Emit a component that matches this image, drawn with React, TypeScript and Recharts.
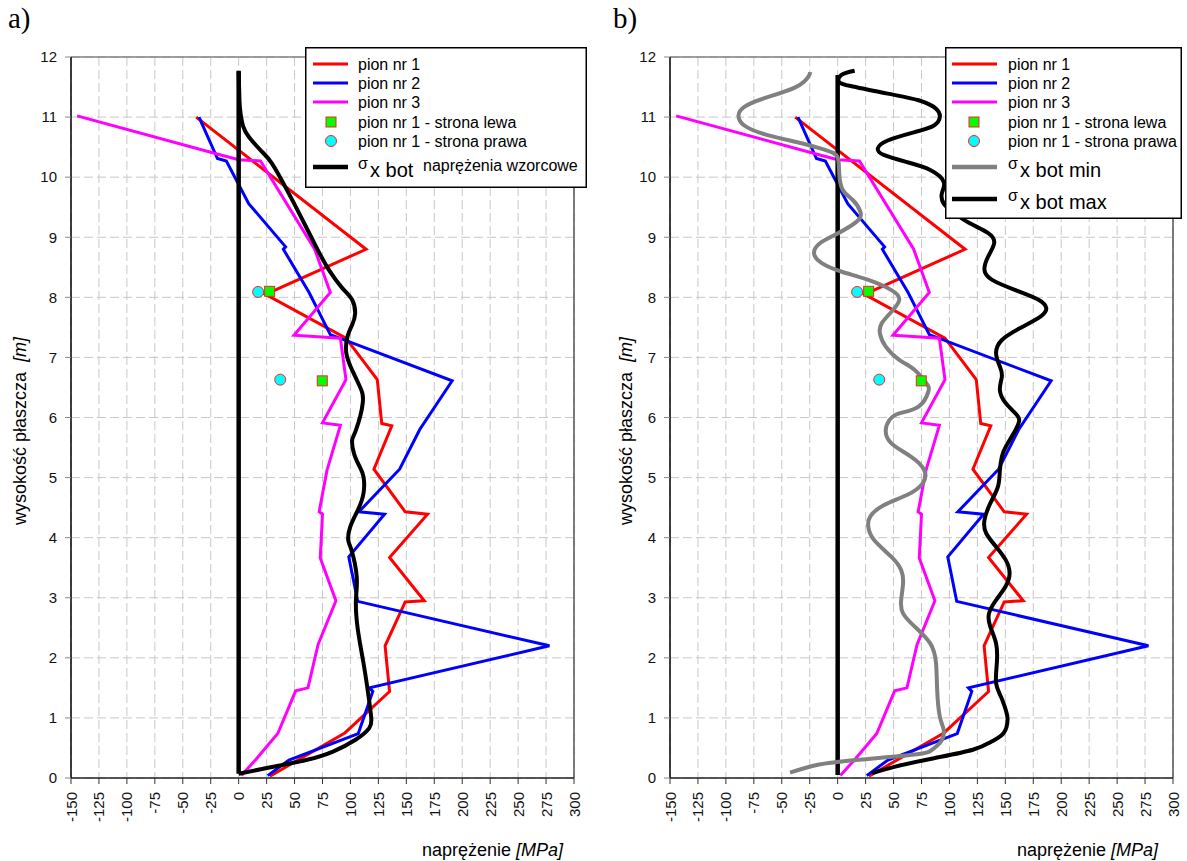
import React from 'react'
import { ScatterChart, Scatter, XAxis, YAxis, CartesianGrid, ReferenceLine } from 'recharts'

type Pt = [number, number]

// osie
const xTicks = [-150, -125, -100, -75, -50, -25, 0, 25, 50, 75, 100, 125, 150, 175, 200, 225, 250, 275, 300]
const yTicks = [0, 1, 2, 3, 4, 5, 6, 7, 8, 9, 10, 11, 12]

// [naprężenie MPa, wysokość m]
const pion1: Pt[] = [
  [-38, 11.0], [114, 8.8], [24, 8.05], [96, 7.32], [124, 6.63], [128, 5.9], [137, 5.86],
  [121, 5.14], [149, 4.43], [169, 4.39], [135, 3.67], [166, 2.95], [149, 2.93], [131, 2.2],
  [135, 1.44], [95, 0.75], [28, 0.03],
]
const pion2: Pt[] = [
  [-35.5, 11.0], [-19, 10.31], [-11, 10.27], [9, 9.56], [42, 8.84], [40, 8.8], [63, 8.08],
  [82, 7.38], [191, 6.61], [162, 5.8], [144, 5.14], [107.5, 4.43], [130.5, 4.39], [98.5, 3.68],
  [106.5, 2.94], [278, 2.2], [117, 1.5], [120, 1.44], [107, 0.74], [45, 0.3], [26, 0.04],
]
const pion3: Pt[] = [
  [-144.5, 11.02], [-16, 10.37], [0, 10.29], [19.5, 10.27], [68, 8.8], [82, 8.08], [49.5, 7.37],
  [91, 7.32], [96, 6.63], [75, 5.91], [91, 5.87], [79, 5.12], [72, 4.43], [75, 4.39], [73, 3.66],
  [87, 2.95], [71, 2.22], [62, 1.5], [51, 1.45], [35, 0.74], [15, 0.3], [2.4, 0.04],
]
const stronaLewa: Pt[] = [[27.7, 8.1], [74.8, 6.61]]
const stronaPrawa: Pt[] = [[17.4, 8.09], [37.2, 6.63]]

// a) naprężenia wzorcowe
const wzorcowe: Pt[] = [
  [0, 11.75], [0.7, 11.28], [1.7, 11.06], [4.1, 10.84], [9.2, 10.67], [19.5, 10.45], [29.7, 10.23],
  [43.4, 9.78], [57.1, 9.29], [70.7, 8.79], [81, 8.45], [92.9, 8.15], [101.5, 7.96], [104.2, 7.73],
  [101.5, 7.54], [97.4, 7.35], [96.3, 7.07], [101.5, 6.79], [108.3, 6.52], [111, 6.24], [104.9, 5.79],
  [101.5, 5.62], [103.2, 5.4], [108.3, 5.18], [111.7, 5.01], [111.7, 4.74], [106.6, 4.46], [99.8, 4.18],
  [98, 3.96], [100.8, 3.8], [105.6, 3.35], [104.9, 2.96], [106.6, 2.47], [111.7, 1.91], [116.2, 1.36],
  [118.6, 1.0], [116.8, 0.83], [104.9, 0.64], [84.4, 0.44], [60.5, 0.3], [26.3, 0.17], [0, 0.07],
]
const zeroA: Pt[] = [[0, 0.07], [0, 11.77]]

// b) obwiednie
const sigmaMin: Pt[] = [
  [-24.6, 11.75], [-26.3, 11.67], [-38.4, 11.49], [-66.2, 11.31], [-83.5, 11.17], [-88.7, 11.03],
  [-83.5, 10.86], [-62.7, 10.7], [-31.5, 10.56], [-10.7, 10.45], [-0.3, 10.34], [1.4, 10.06],
  [4.8, 9.78], [13.5, 9.62], [20.4, 9.42], [17, 9.26], [-0.3, 9.06], [-15.9, 8.9], [-21.1, 8.73],
  [-14.2, 8.57], [3.1, 8.43], [27.4, 8.29], [48.1, 8.12], [55.1, 7.96], [48.1, 7.76], [39.5, 7.57],
  [37.8, 7.4], [43, 7.18], [55.1, 6.96], [68.9, 6.79], [79.3, 6.57], [81.1, 6.43], [72.4, 6.18],
  [55.1, 6.07], [46.4, 5.96], [43, 5.79], [48.1, 5.57], [65.5, 5.35], [77.6, 5.12], [75.9, 4.9],
  [62, 4.71], [41.2, 4.54], [29.1, 4.35], [27.4, 4.18], [32.6, 3.96], [48.1, 3.68], [56.8, 3.46],
  [58.5, 3.24], [56.8, 2.96], [58.5, 2.74], [68.9, 2.52], [82.8, 2.24], [88, 1.91], [89, 1.47],
  [91.4, 1.02], [94.9, 0.8], [92.5, 0.61], [84.5, 0.47], [68.9, 0.39], [17, 0.3], [-17.7, 0.22],
  [-42.6, 0.09],
]
const sigmaMax: Pt[] = [
  [15.2, 11.77], [3.1, 11.7], [1.4, 11.58], [13.5, 11.51], [44.7, 11.39], [72.4, 11.28], [88, 11.14],
  [91.4, 11.0], [86.2, 10.86], [68.9, 10.75], [44.7, 10.61], [36, 10.48], [41.2, 10.37], [62, 10.25],
  [82.8, 10.12], [94.9, 9.92], [93.2, 9.73], [94.9, 9.56], [103, 9.42], [117.4, 9.24], [134.7, 9.07],
  [140, 8.9], [134.7, 8.68], [131.3, 8.46], [138.2, 8.29], [159, 8.12], [179.7, 7.96], [186.6, 7.82],
  [181.4, 7.68], [162.4, 7.48], [146.9, 7.29], [141.7, 7.07], [145.1, 6.85], [146.9, 6.68],
  [145.1, 6.46], [150.3, 6.24], [159, 6.07], [162.4, 5.96], [159, 5.79], [150.3, 5.51], [146.9, 5.35],
  [145.1, 5.12], [143.4, 4.85], [136.5, 4.57], [131.3, 4.29], [133, 4.07], [141.7, 3.85], [150.3, 3.63],
  [153.8, 3.41], [150.3, 3.19], [141.7, 2.96], [135.4, 2.74], [136.5, 2.52], [141.7, 2.24],
  [142.4, 1.91], [141.7, 1.58], [145.9, 1.36], [150.3, 1.14], [152, 0.97], [148.6, 0.75],
  [138.2, 0.61], [120.9, 0.47], [86.2, 0.33], [51.6, 0.19], [30.8, 0.08],
]
const zeroB: Pt[] = [[0, 0.05], [0, 11.7]]

const FONT = '"Liberation Sans", Arial, sans-serif'
const SERIF = '"Liberation Serif", "Times New Roman", serif'

const toData = (pts: Pt[]) => pts.map(([x, y]) => ({ x, y }))

const noDot = () => <g />

const squareDot = (p: any) => (
  <rect x={p.cx - 5} y={p.cy - 5} width={10} height={10} fill="#00ff00" stroke="#ff2020" strokeWidth={1} />
)
const circleDot = (p: any) => (
  <circle cx={p.cx} cy={p.cy} r={5.5} fill="#00ffff" stroke="#ff2020" strokeWidth={1} />
)

function XTick({ x, y, payload }: any) {
  return (
    <text
      x={x}
      y={y}
      transform={`rotate(-90 ${x} ${y})`}
      textAnchor="end"
      dominantBaseline="central"
      fontSize={15}
      fontFamily={FONT}
      fill="#111"
    >
      {payload.value}
    </text>
  )
}

function lineSeries(pts: Pt[], color: string, width: number, smooth = false) {
  return (
    <Scatter
      data={toData(pts)}
      fill={color}
      line={{ stroke: color, strokeWidth: width }}
      lineJointType={smooth ? 'natural' : 'linear'}
      shape={noDot}
      isAnimationActive={false}
    />
  )
}

interface PanelProps {
  left: number
  width: number
  marginLeft: number
  marginRight: number
  children: React.ReactNode
}

function Panel({ left, width, marginLeft, marginRight, children }: PanelProps) {
  return (
    <div style={{ position: 'absolute', left, top: 0 }}>
      <ScatterChart width={width} height={861} margin={{ top: 57, right: marginRight, bottom: 33, left: marginLeft }}>
        <CartesianGrid strokeDasharray="9 4" stroke="#c8c8c8" />
        <XAxis
          type="number"
          dataKey="x"
          domain={[-150, 300]}
          ticks={xTicks}
          interval={0}
          height={50}
          tickSize={6}
          tickMargin={8}
          axisLine={{ stroke: '#222', strokeWidth: 1.5 }}
          tickLine={{ stroke: '#333' }}
          tick={(p: any) => <XTick {...p} />}
        />
        <YAxis
          type="number"
          dataKey="y"
          domain={[0, 12]}
          ticks={yTicks}
          interval={0}
          width={60}
          tickSize={6}
          tickMargin={8}
          axisLine={{ stroke: '#000', strokeWidth: 1.5 }}
          tickLine={{ stroke: '#888' }}
          tick={{ fontSize: 15, fontFamily: FONT, fill: '#111' }}
        />
        <ReferenceLine y={12} stroke="#808080" strokeWidth={1.5} />
        <ReferenceLine x={300} stroke="#555" strokeWidth={1.5} />
        {lineSeries(pion1, '#ff0000', 3)}
        {lineSeries(pion2, '#0000ff', 3)}
        {lineSeries(pion3, '#ff00ff', 3)}
        {children}
        <Scatter data={toData(stronaLewa)} fill="#00ff00" shape={squareDot} isAnimationActive={false} />
        <Scatter data={toData(stronaPrawa)} fill="#00ffff" shape={circleDot} isAnimationActive={false} />
      </ScatterChart>
    </div>
  )
}

const legendRows = [
  { label: 'pion nr 1', color: '#ff0000' },
  { label: 'pion nr 2', color: '#0000ff' },
  { label: 'pion nr 3', color: '#ff00ff' },
]
const rowY = [17, 36, 55, 75, 94]

function LegendBox({ left, width, height, x1, x2, tx, mx, extra }: any) {
  return (
    <svg style={{ position: 'absolute', left, top: 47 }} width={width} height={height}>
      <rect x={0.75} y={0.75} width={width - 1.5} height={height - 1.5} fill="#fff" stroke="#000" strokeWidth={1.5} />
      <g fontFamily={FONT} fill="#000">
        {legendRows.map((r, i) => (
          <g key={r.label}>
            <line x1={x1} x2={x2} y1={rowY[i]} y2={rowY[i]} stroke={r.color} strokeWidth={3} />
            <text x={tx} y={rowY[i] + 5.5} fontSize={16}>{r.label}</text>
          </g>
        ))}
        <rect x={mx - 5} y={rowY[3] - 5} width={10} height={10} fill="#00ff00" stroke="#ff2020" strokeWidth={1} />
        <text x={tx} y={rowY[3] + 5.5} fontSize={16}>pion nr 1 - strona lewa</text>
        <circle cx={mx} cy={rowY[4]} r={5.5} fill="#00ffff" stroke="#ff2020" strokeWidth={1} />
        <text x={tx} y={rowY[4] + 5.5} fontSize={16}>pion nr 1 - strona prawa</text>
        {extra}
      </g>
    </svg>
  )
}

function SigmaRow({ y, x1, x2, tx, color, main, note }: any) {
  return (
    <g>
      <line x1={x1} x2={x2} y1={y} y2={y} stroke={color} strokeWidth={4.5} />
      <text x={tx} y={y + 1.5} fontSize={16}>σ</text>
      <text x={tx + 12} y={y + 9.5} fontSize={20}>{main}</text>
      {note && <text x={tx + 65} y={y + 4} fontSize={16}>{note}</text>}
    </g>
  )
}

const axisTitle: React.CSSProperties = {
  position: 'absolute',
  fontFamily: FONT,
  fontSize: 18,
  lineHeight: '20px',
  whiteSpace: 'pre',
  color: '#000',
}

export default function App() {
  return (
    <div style={{ position: 'absolute', left: 0, top: 0, width: 1187, height: 861, background: '#fff', overflow: 'hidden' }}>
      <Panel left={0} width={600} marginLeft={11} marginRight={26}>
        {lineSeries(zeroA, '#000', 4.5)}
        {lineSeries(wzorcowe, '#000', 4, true)}
      </Panel>
      <Panel left={600} width={587} marginLeft={10} marginRight={14}>
        {lineSeries(zeroB, '#000', 4.5)}
        {lineSeries(sigmaMin, '#808080', 4, true)}
        {lineSeries(sigmaMax, '#000', 4, true)}
      </Panel>

      <div style={{ position: 'absolute', left: 8, top: 4, fontFamily: SERIF, fontSize: 29, lineHeight: 1 }}>a)</div>
      <div style={{ position: 'absolute', left: 613, top: 4, fontFamily: SERIF, fontSize: 29, lineHeight: 1 }}>b)</div>

      {[20, 626].map((cx) => (
        <div key={cx} style={{ ...axisTitle, left: cx, top: 431, transform: 'translate(-50%, -50%) rotate(-90deg)' }}>
          wysokość płaszcza  <i>[m]</i>
        </div>
      ))}
      {[422, 1017].map((lx) => (
        <div key={lx} style={{ ...axisTitle, left: lx, top: 840 }}>
          naprężenie <i>[MPa]</i>
        </div>
      ))}

      <LegendBox
        left={305}
        width={282}
        height={141}
        x1={8}
        x2={43}
        tx={53}
        mx={26}
        extra={<SigmaRow y={120} x1={8} x2={43} tx={53} color="#000" main="x bot" note="naprężenia wzorcowe" />}
      />
      <LegendBox
        left={945}
        width={237}
        height={172}
        x1={7}
        x2={52}
        tx={63}
        mx={29}
        extra={
          <>
            <SigmaRow y={120} x1={7} x2={52} tx={63} color="#808080" main="x bot min" />
            <SigmaRow y={152} x1={7} x2={52} tx={63} color="#000" main="x bot max" />
          </>
        }
      />
    </div>
  )
}
